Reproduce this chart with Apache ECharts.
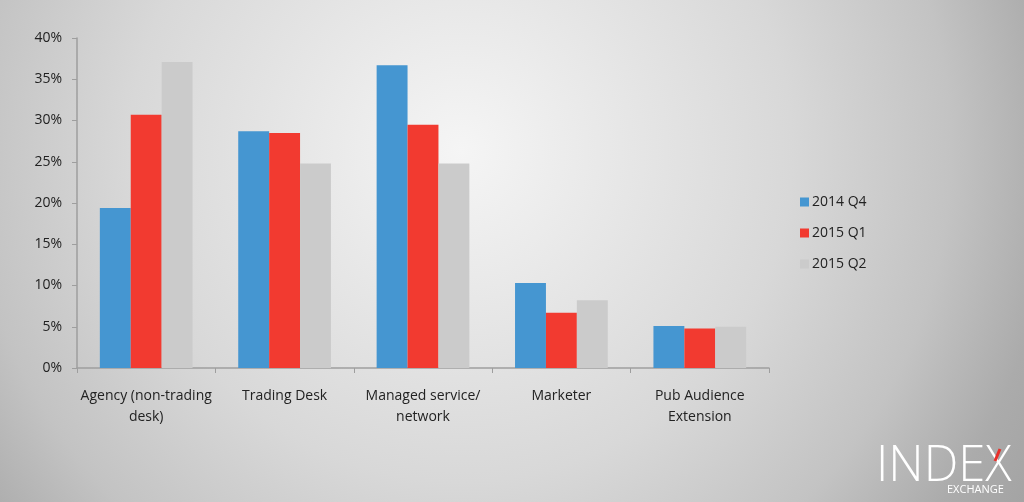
<!DOCTYPE html>
<html><head><meta charset="utf-8">
<script src="https://cdn.jsdelivr.net/npm/echarts@6/dist/echarts.min.js"></script>
<style>html,body{margin:0;padding:0;}#c{width:1024px;height:502px;}</style>
</head><body><div id="c"></div>
<script>
const categories = ['Agency (non-trading\ndesk)', 'Trading Desk', 'Managed service/\nnetwork', 'Marketer', 'Pub Audience\nExtension'];
const seriesNames = ['2014 Q4', '2015 Q1', '2015 Q2'];
const q4_2014 = [19.4, 28.7, 36.7, 10.3, 5.1];
const q1_2015 = [30.7, 28.5, 29.5, 6.7, 4.8];
const q2_2015 = [37.1, 24.8, 24.8, 8.2, 5.0];
const yTicks = [0, 5, 10, 15, 20, 25, 30, 35, 40];
const colors = ['#4596d1', '#f23a30', '#cbcbcb'];

const chart = echarts.init(document.getElementById('c'));
const font = '"Open Sans", "Noto Sans", sans-serif';
const seriesData = [q4_2014, q1_2015, q2_2015];
chart.setOption({
  backgroundColor: {
    type: 'radial', x: 0.45, y: 0.3, r: 1.32,
    colorStops: [
      {offset: 0, color: '#f5f5f5'},
      {offset: 0.5, color: '#d8d8d8'},
      {offset: 0.74, color: '#c3c3c3'},
      {offset: 0.9, color: '#ababab'},
      {offset: 1, color: '#a4a4a4'}
    ]
  },
  animation: false,
  textStyle: {fontFamily: font},
  grid: {left: 77, right: 255, top: 38, bottom: 134, containLabel: false},
  legend: {
    orient: 'vertical', left: 795, top: 190, itemWidth: 9, itemHeight: 9, itemGap: 17,
    icon: 'rect',
    textStyle: {fontSize: 14, color: '#222', fontFamily: font, padding: [0, 0, 0, -2]},
    data: seriesNames
  },
  xAxis: {
    type: 'category', data: categories,
    axisLine: {lineStyle: {color: '#9e9e9e', width: 1.5}},
    axisTick: {show: true, length: 5, lineStyle: {color: '#9e9e9e'}},
    axisLabel: {fontSize: 14, color: '#222', margin: 18, lineHeight: 21, interval: 0}
  },
  yAxis: {
    type: 'value', min: yTicks[0], max: yTicks[yTicks.length - 1], interval: 5,
    axisLine: {show: true, lineStyle: {color: '#9e9e9e', width: 1.5}},
    axisTick: {show: true, length: 5, lineStyle: {color: '#9e9e9e'}},
    splitLine: {show: false},
    axisLabel: {fontSize: 14, color: '#222', margin: 15, formatter: v => v + '%'}
  },
  series: seriesNames.map((n, i) => ({
    name: n, type: 'bar', data: seriesData[i],
    barGap: '0%', barCategoryGap: '33%',
    itemStyle: {color: colors[i]}
  })),
  graphic: [
    {type: 'text', left: 876, top: 443, style: {text: 'INDEX', fill: '#ffffff', font: '300 49px "Open Sans", sans-serif'}},
    {type: 'line', shape: {x1: 1000, y1: 449, x2: 995, y2: 461}, style: {stroke: '#e8302a', lineWidth: 3}},
    {type: 'text', left: 947, top: 484, style: {text: 'EXCHANGE', fill: '#ffffff', font: '11px "Open Sans", sans-serif'}}
  ]
});
</script></body></html>
